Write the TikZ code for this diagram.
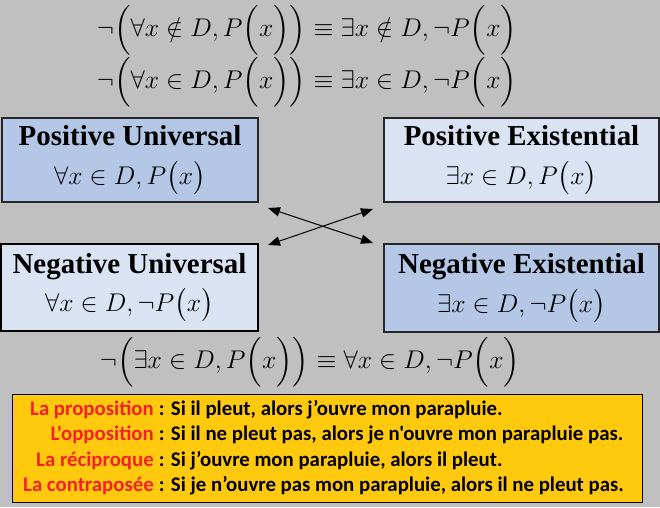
\RequirePackage{fix-cm}
\documentclass[tikz,border=0pt]{standalone}
\usepackage{amsmath}
\usepackage{fontspec}
\setmainfont{Liberation Serif}
\newfontfamily\calibri{Carlito}
\usepackage{tikz}
\usepackage{xcolor}
\usetikzlibrary{arrows.meta,positioning}
\definecolor{canvas}{HTML}{C0C0C0}
\definecolor{boxedge}{HTML}{262626}
\definecolor{deepblue}{HTML}{B4C7E7}
\definecolor{paleblue}{HTML}{DAE3F3}
\definecolor{notegold}{HTML}{FFC90E}
\definecolor{notered}{HTML}{F2222A}
\newcommand{\lawsize}{\fontsize{19.2}{23}\selectfont}
\newcommand{\boxlawsize}{\fontsize{19.2}{23}\selectfont}
\newcommand{\argof}[1]{\!\left(\vphantom{\rule{0pt}{0.85em}}#1\right)}
\tikzset{
  quadbox/.style={draw=boxedge,line width=1.1pt,align=center,inner sep=2pt,
                  minimum width=192pt,minimum height=63pt,
                  font=\fontsize{21.7}{29}\selectfont\bfseries},
  lawline/.style={inner sep=0pt,font=\lawsize},
  notebox/.style={draw=black,fill=notegold,line width=0.75pt,
                  minimum width=472.5pt,minimum height=81pt},
  notelabel/.style={anchor=base east,inner sep=0pt,text=notered,
                    font=\calibri\bfseries\fontsize{15.6}{18}\selectfont},
  notetext/.style={anchor=base west,inner sep=0pt,text=black,
                   font=\calibri\bfseries\fontsize{15.6}{18}\selectfont},
  swaparr/.style={{Triangle[length=9pt,width=7pt]}-{Triangle[length=9pt,width=7pt]},
                  line width=0.75pt}
}

\begin{document}
\begin{tikzpicture}[x=0.75pt,y=-0.75pt]
  \fill[canvas] (0,0) rectangle (660,507);

  \node[lawline] (notin) at (307,30)
    {$\neg\Bigl(\forall x\notin D,P\Bigl(x\Bigr)\Bigr)\equiv\exists x\notin D,\neg P\Bigl(x\Bigr)$};
  \node[lawline] (forall) at (307,82)
    {$\neg\Bigl(\forall x\in D,P\Bigl(x\Bigr)\Bigr)\equiv\exists x\in D,\neg P\Bigl(x\Bigr)$};

  \node[quadbox,fill=deepblue] (pu) at (130,160)
    {Positive Universal\\ {\boxlawsize$\forall x\in D,P\argof{x}$}};
  \node[quadbox,fill=paleblue,minimum width=206.25pt] (pe) at (521.5,160)
    {Positive Existential\\ {\boxlawsize$\exists x\in D,P\argof{x}$}};
  \node[quadbox,fill=paleblue,draw=black,minimum width=192.75pt,minimum height=65.25pt] (nu) at (129.5,287.5)
    {Negative Universal\\ {\boxlawsize$\forall x\in D,\neg P\argof{x}$}};
  \node[quadbox,fill=deepblue,minimum width=206.25pt,minimum height=66pt] (ne) at (521.5,288)
    {Negative Existential\\ {\boxlawsize$\exists x\in D,\neg P\argof{x}$}};

  \coordinate (pu-tip) at (268,208);
  \coordinate (ne-tip) at (373,243);
  \coordinate (nu-tip) at (268,245);
  \coordinate (pe-tip) at (373,209);
  \draw[swaparr] (pu-tip) -- (ne-tip);
  \draw[swaparr] (nu-tip) -- (pe-tip);

  \node[lawline] (exists) at (310,362)
    {$\neg\Bigl(\exists x\in D,P\Bigl(x\Bigr)\Bigr)\equiv\forall x\in D,\neg P\Bigl(x\Bigr)$};

  \node[notebox] (note) at (327,448) {};
  \node[notelabel] (lab1) at (154,415) {La proposition};
  \node[notetext] (say1) at (lab1.base east) {\ : Si il pleut, alors j’ouvre mon parapluie.};
  \node[notelabel] (lab2) at (154,440) {L'opposition};
  \node[notetext] (say2) at (lab2.base east) {\ : Si il ne pleut pas, alors je n'ouvre mon parapluie pas.};
  \node[notelabel] (lab3) at (154,466) {La réciproque};
  \node[notetext] (say3) at (lab3.base east) {\ : Si j’ouvre mon parapluie, alors il pleut.};
  \node[notelabel] (lab4) at (154,491) {La contraposée};
  \node[notetext] (say4) at (lab4.base east) {\ : Si je n’ouvre pas mon parapluie, alors il ne pleut pas.};
\end{tikzpicture}
\end{document}
